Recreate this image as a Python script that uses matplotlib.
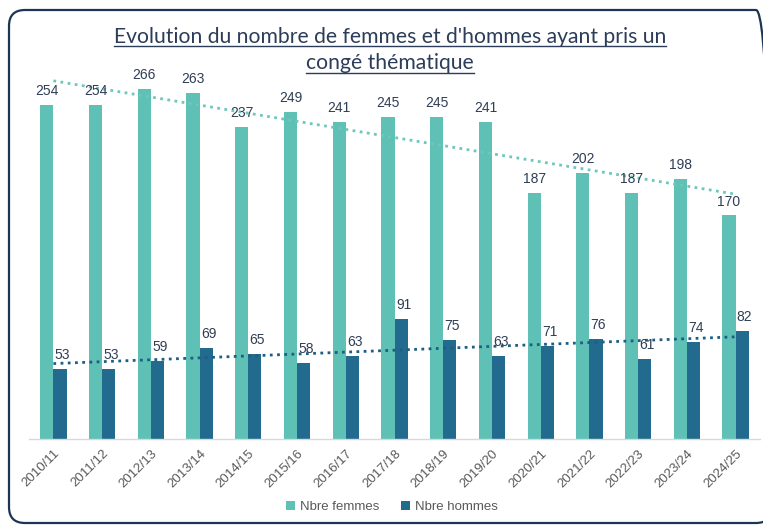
import numpy as np
import matplotlib
matplotlib.use("Agg")
import matplotlib.pyplot as plt
from matplotlib.patches import FancyBboxPatch
from matplotlib.lines import Line2D
from matplotlib.transforms import IdentityTransform

# Data
periods = ["2010/11", "2011/12", "2012/13", "2013/14", "2014/15", "2015/16", "2016/17",
           "2017/18", "2018/19", "2019/20", "2020/21", "2021/22", "2022/23", "2023/24", "2024/25"]
femmes = [254, 254, 266, 263, 237, 249, 241, 245, 245, 241, 187, 202, 187, 198, 170]
hommes = [53, 53, 59, 69, 65, 58, 63, 91, 75, 63, 71, 76, 61, 74, 82]

title_lines = ["Evolution du nombre de femmes et d'hommes ayant pris un", "congé thématique"]
legend_labels = ["Nbre femmes", "Nbre hommes"]

c_fem = "#5fc0b5"
c_hom = "#226b8e"
c_trend_fem = "#6ec7bb"
c_trend_hom = "#1d5f82"
c_text = "#2f3e55"
c_tick = "#595959"
c_title = "#2c3d5a"

W, H = 763, 525
fig = plt.figure(figsize=(W / 100, H / 100), dpi=100)
fig.patch.set_facecolor("white")

ax = fig.add_axes([29 / W, (H - 439) / H, (760 - 29) / W, (439 - 44.5) / H])
ax.set_facecolor("none")

x = np.arange(len(periods))
bw = 0.27
b1 = ax.bar(x - bw / 2, femmes, bw, color=c_fem, label=legend_labels[0], zorder=2)
b2 = ax.bar(x + bw / 2, hommes, bw, color=c_hom, label=legend_labels[1], zorder=2)

# Linear trend lines
for vals, col in ((femmes, c_trend_fem), (hommes, c_trend_hom)):
    k, m = np.polyfit(x, vals, 1)
    ax.plot(x, k * x + m, linestyle=(0, (1, 1.6)), color=col, lw=2.0, zorder=3)

# Value labels
lab_font = dict(family="Liberation Sans", size=10, color=c_text)
for xi, v in zip(x, femmes):
    ax.annotate(str(v), (xi - bw / 2, v), xytext=(0, 5), textcoords="offset points",
                ha="center", va="bottom", zorder=4, **lab_font)
for xi, v in zip(x, hommes):
    ax.annotate(str(v), (xi + bw / 2 + 0.05, v), xytext=(0, 5), textcoords="offset points",
                ha="center", va="bottom", zorder=4, **lab_font)

ax.set_xlim(-0.5, len(periods) - 0.5)
ax.set_ylim(0, 300)
ax.set_yticks([])
for s in ("left", "right", "top"):
    ax.spines[s].set_visible(False)
ax.spines["bottom"].set_color("#d9d9d9")
ax.spines["bottom"].set_linewidth(1.0)
ax.set_xticks(x)
ax.set_xticklabels(periods, rotation=45, ha="right", rotation_mode="anchor",
                   family="Liberation Sans", fontsize=9.5, color=c_tick)
ax.tick_params(axis="x", length=0, pad=6)

leg = fig.legend(handles=[b1, b2], labels=legend_labels, loc="center",
                 bbox_to_anchor=(392 / W, 1 - 507 / H), ncol=2, frameon=False,
                 prop=dict(family="Liberation Sans", size=9.5), handlelength=0.7,
                 handleheight=0.7, handletextpad=0.4, columnspacing=1.6)
for t in leg.get_texts():
    t.set_color(c_tick)

# Title, underlined
t1 = fig.text(390 / W, 1 - 37 / H, title_lines[0], ha="center", va="center",
              family="Lato", fontsize=15.2, color=c_title)
t2 = fig.text(390 / W, 1 - 63 / H, title_lines[1], ha="center", va="center",
              family="Lato", fontsize=15.2, color=c_title)
fig.canvas.draw()
r = fig.canvas.get_renderer()
for t, yy in ((t1, 46), (t2, 73)):
    bb = t.get_window_extent(r)
    fig.add_artist(Line2D([bb.x0, bb.x1], [H - yy, H - yy], transform=IdentityTransform(),
                          color=c_title, lw=1.0))

# Rounded frame (runs past the right edge)
frame = FancyBboxPatch((9, H - 523), 763, 513, boxstyle="round,pad=0,rounding_size=16",
                       transform=IdentityTransform(), facecolor="none",
                       edgecolor="#1b3553", lw=1.6)
fig.add_artist(frame)

fig.savefig("out.png", dpi=100)
